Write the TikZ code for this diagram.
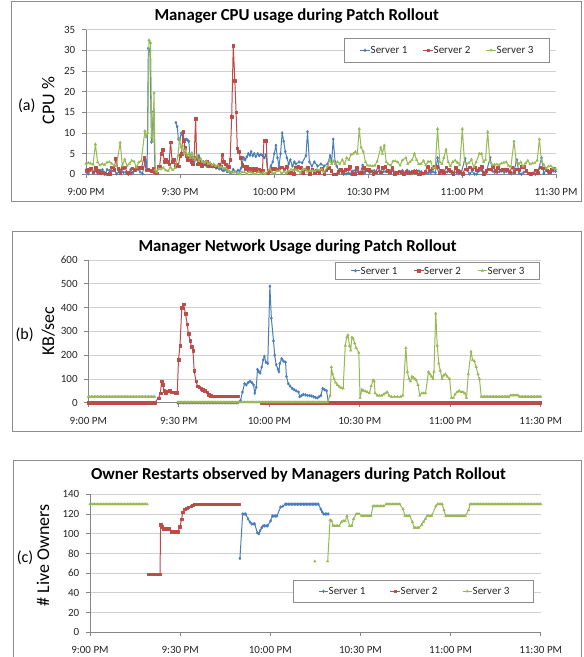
\documentclass[tikz,border=0pt]{standalone}
\usepackage{fontspec}
\setmainfont{Carlito}
\usetikzlibrary{plotmarks}

\definecolor{cA}{HTML}{4A7EBB}
\definecolor{cB}{HTML}{BE4B48}
\definecolor{cC}{HTML}{98B954}
\definecolor{gridc}{HTML}{D0D0D0}
\definecolor{axisc}{HTML}{868686}
\definecolor{framec}{HTML}{8C8C8C}

\tikzset{
  serA/.style={cA, line width=1pt, line join=round, mark=diamond*, mark size=1.5pt,
    mark options={fill=cA, draw=cA, line width=0.3pt}},
  serB/.style={cB, line width=1pt, line join=round, mark=square*, mark size=1.3pt,
    mark options={fill=cB, draw=cB, line width=0.3pt}},
  serC/.style={cC, line width=1pt, line join=round, mark=triangle*, mark size=1.5pt,
    mark options={fill=cC, draw=cC, line width=0.3pt}},
  gridln/.style={gridc, line width=0.8pt},
  axln/.style={axisc, line width=0.8pt},
  chartframe/.style={framec, line width=1pt},
  legframe/.style={framec, line width=0.8pt, fill=white},
  ticklab/.style={inner sep=0pt, text=black!85, font=\fontsize{11}{13}\selectfont},
  legtxt/.style={inner sep=0pt, text=black!85, font=\fontsize{11}{13}\selectfont, anchor=west},
  charttitle/.style={inner sep=0pt, font=\fontsize{16.8}{20}\selectfont\bfseries},
  panellab/.style={inner sep=0pt, font=\fontsize{16}{19}\selectfont},
  axtitle/.style={inner sep=0pt, font=\fontsize{18}{21}\selectfont},
}

% sampling step (minutes) for generated runs
\def\dstep{0.6}
% append a run of samples: accumulator, from, to, base value, random amplitude
\newcommand\addrun[5]{%
  \pgfmathtruncatemacro\nRuns{(#3-#2)/\dstep}%
  \foreach \i in {0,...,\nRuns}{%
    \pgfmathsetmacro\nT{#2+\dstep*\i}%
    \pgfmathsetmacro\nV{#4+#5*rnd}%
    \xdef#1{#1 (\nT,\nV)}}}
% append explicit samples
\newcommand\addpts[2]{\xdef#1{#1 #2}}
% draw an accumulated series
\newcommand\drawser[2]{\begingroup\edef\x{\noexpand\draw[#1] plot coordinates {#2};}\x\endgroup}
% grid, axes, ticks and tick labels of one chart (inside its scope)
\newcommand\panelaxes[2]{%
  \pgfmathtruncatemacro\ysec{#2*2}%
  \foreach \g in {#2,\ysec,...,#1} \draw[gridln] (0,\g) -- (150,\g);
  \draw[axln] (0,0) -- (0,#1);
  \draw[axln] (0,0) -- (150,0);
  \foreach \g in {0,#2,...,#1} {%
    \draw[axln] (0,\g) -- ++(-4pt,0);
    \node[ticklab,anchor=east] at ([xshift=-10.5pt]0,\g) {\g};}
  \foreach \m/\lab in {0/9:00 PM,30/9:30 PM,60/10:00 PM,90/10:30 PM,120/11:00 PM,150/11:30 PM}{%
    \draw[axln] (\m,0) -- ++(0,-4pt);
    \node[ticklab] at ([yshift=-18pt]\m,0) {\lab};}}
% legend row: y, three line starts, three line ends
\newcommand\legendrow[7]{%
  \draw[serA, mark indices={2}] plot coordinates {(#2,#1) ({(#2+#5)/2},#1) (#5,#1)};
  \node[legtxt] at (#5+0.5,#1) {Server 1};
  \draw[serB, mark indices={2}] plot coordinates {(#3,#1) ({(#3+#6)/2},#1) (#6,#1)};
  \node[legtxt] at (#6+0.5,#1) {Server 2};
  \draw[serC, mark indices={2}] plot coordinates {(#4,#1) ({(#4+#7)/2},#1) (#7,#1)};
  \node[legtxt] at (#7+0.5,#1) {Server 3};}

\begin{document}
\begin{tikzpicture}[x=1pt,y=-1pt]
\fill[white] (0,0) rectangle (584,657);
\useasboundingbox (0,0) rectangle (584,657);
\pgfmathsetseed{4711}

% ---------------- chart frames ----------------
\draw[chartframe] (11.7,1.7) rectangle (581.7,201.7);
\draw[chartframe] (12.3,231.7) rectangle (581.7,431);
\draw[chartframe] (13.3,460.7) rectangle (581.7,660);

% ---------------- (a) CPU usage ----------------
\node[charttitle] (ta) at (296.7,15.7) {Manager CPU usage during Patch Rollout};
\node[panellab] (pa) at (26.7,106) {(a)};
\node[axtitle, rotate=90] (ya) at (48.3,100.7) {CPU \%};
\begin{scope}[shift={(86,174.3)}, x=3.1333pt, y=4.131pt]
  \panelaxes{35}{5}
  \def\dstep{0.75}
  % Server 1
  \gdef\aA{}\gdef\aB{}
  \addrun\aA{0}{18.5}{0}{1.3}
  \addpts\aA{(19,3.5) (19.5,1.2) (19.9,30.5) (20.4,30) (20.9,7.8) (21.5,15.2) (22,1.5)}
  \addpts\aB{(28.7,12.5) (29.1,11.5) (29.5,8.5) (30,8.5) (30.4,10) (30.8,9.5) (31.2,8.5) (31.6,8.3) (32,8.5) (32.4,8.3) (32.8,8) (33.2,4.5) (33.6,3.5) (34,4) (34.5,3) (35,3.5) (35.5,4) (36,4.5) (36.5,3) (37,2.5) (37.5,3) (38,2.8) (38.5,2) (39,2.5) (39.5,2) (40,2.3) (40.5,1.8) (41,2) (41.5,1.5) (42,1.7) (42.5,1.3) (43,1.5) (43.5,1) (44,0.9) (44.5,1.2) (45,0.6) (45.5,0.8) (46,0.4) (46.5,0.5) (47,1.2) (47.5,0.6) (48,0.5) (48.5,1) (49,0.8) (49.5,1.5) (50.3,4) (50.8,3.5) (51.3,4.2) (51.8,5) (52.3,4.6) (52.7,5.5) (53.2,4.5) (53.7,5) (54.2,4.3) (54.8,5) (55.3,4.5) (55.8,4.8) (56.4,4.5) (56.9,4) (57.4,4.8) (58,0.5) (58.5,1) (59,2) (59.6,3) (60.1,5) (60.6,7) (61.1,4) (61.6,2) (62.1,5) (62.6,10) (63.1,8) (63.6,5.5) (64.1,4) (64.7,2.5) (65.2,3.5) (65.9,2) (66.5,3) (67,2.5) (68,3) (69,2.8) (70.2,4.5) (70.7,10.3) (71.3,3) (72.1,2) (72.9,3) (73.9,2) (75,2.5) (76,2) (77.1,2.5) (77.9,4.5) (78.4,3) (78.9,8.5) (79.5,3) (80,2) (80.8,0.8)}
  \addrun\aB{81.5}{88}{0}{1}
  \addpts\aB{(88.3,2.2)}
  \addrun\aB{89}{111.5}{0}{1}
  \addpts\aB{(112.2,4)}
  \addrun\aB{113}{120.3}{0}{1}
  \addpts\aB{(121,3.8)}
  \addrun\aB{121.7}{128.3}{0}{1}
  \addpts\aB{(129,4)}
  \addrun\aB{129.7}{136.8}{0}{1}
  \addpts\aB{(137.5,3.5)}
  \addrun\aB{138.2}{144.7}{0}{1}
  \addpts\aB{(145.4,4)}
  \addrun\aB{146.1}{150}{0}{1}
  \drawser{serA}{\aA}
  \drawser{serA}{\aB}
  % Server 2
  \gdef\rA{}
  \addrun\rA{0}{9}{0}{1.8}
  \addpts\rA{(9.5,3.8)}
  \addrun\rA{10.2}{18}{0}{1.8}
  \addpts\rA{(18.5,4) (19.2,1) (19.8,1.2) (20.4,1) (21,0.8) (21.5,1.5) (22,0.5) (22.5,0.3) (23,2) (23.5,2) (24,5) (24.5,6) (25,3) (25.5,3.5) (26,3) (26.5,2.5) (27,7.8) (27.5,3) (28,3.5) (28.5,2) (29,2.5) (29.5,2) (30,4.5) (30.5,5) (31,10.3) (31.3,8) (31.6,6.5) (32,4.5) (32.5,3.5) (33,4) (33.5,3) (34,2.5) (34.5,4) (35,13.5) (35.3,4) (35.7,2.5) (36,3) (36.5,2.5) (37,2) (37.5,2.5) (38,2.5) (38.5,3) (39,2) (39.5,2.5) (40,2) (40.5,2.2) (41,2) (41.5,1.8) (42,2) (42.5,2.3) (43,2) (43.5,4.8) (44,3) (44.5,2.5) (45,2) (45.5,1.8) (46,3.5) (46.5,14) (47,31.2) (47.5,22.7) (47.9,15) (48.3,6.3) (48.8,5.5) (49.3,4) (49.8,2.5) (50.3,2) (50.8,1.2) (51.3,1.8) (51.8,1) (52.3,1.5) (52.8,0.8) (53.3,1.5) (53.8,1) (54.3,1.3) (54.8,0.8) (55.3,1.2) (55.8,0.8) (56.3,1) (56.8,8.2) (57.5,8.2) (58,0.3)}
  \addrun\rA{58.7}{150}{0}{1.9}
  \drawser{serB}{\rA}
  % Server 3
  \gdef\gA{}
  \addrun\gA{0}{2.3}{1.8}{1.3}
  \addpts\gA{(3,7.3)}
  \addrun\gA{3.7}{10.2}{1.6}{1.8}
  \addpts\gA{(10.9,7.7)}
  \addrun\gA{11.6}{18.1}{1.5}{2.3}
  \addpts\gA{(18.8,10.5) (19.2,9) (19.7,10) (20.1,32.5) (20.6,31.8) (21,9) (21.3,8) (21.7,19.7) (22.1,1) (22.6,0.5)}
  \addrun\gA{23.2}{28.8}{0.6}{1.5}
  \addpts\gA{(29.4,4.5) (29.8,8.7) (30.3,6.5) (30.8,7) (31.3,5) (31.8,6) (32.3,4.5) (32.8,5) (33.3,4) (33.8,5.2) (34.3,4) (34.8,3.5) (35.4,4.5) (36,3.2) (36.6,3.8) (37.2,3) (37.8,2.8) (38.4,3.2) (39,2.5) (39.6,2.8) (40.2,2.2) (40.8,2.5) (41.4,2) (42,2.2) (42.6,1.7) (43.2,1.8) (43.8,1.4) (44.4,1.5) (45,1) (45.6,0.8) (46.2,0.5)}
  \addrun\gA{46.8}{58}{0}{0.6}
  \addrun\gA{58.7}{76.5}{0.2}{1.2}
  \addpts\gA{(77.2,2) (77.8,3.5) (78.4,2.5) (79,3.2) (79.6,2.5) (80.3,3) (81,2.5) (81.8,3.5) (82.5,2.5) (83.2,4) (83.9,3.5) (84.6,4.8) (85.3,5) (86,5.5) (86.6,5) (87.2,11) (87.8,6.5) (88.5,5.5) (89.2,3)}
  \addrun\gA{89.9}{93.4}{1.7}{1.6}
  \addpts\gA{(94.1,6.5) (94.6,5) (95.2,7) (95.8,3)}
  \addrun\gA{96.5}{101.5}{1.7}{1.8}
  \addpts\gA{(102.1,4) (102.7,2.5) (103.4,3) (104.1,3.5) (104.8,5) (105.5,3.5)}
  \addrun\gA{106.2}{111.5}{1.5}{2}
  \addpts\gA{(112.2,11) (112.9,3) (113.6,2.5) (114.2,4) (114.9,6) (115.6,3)}
  \addrun\gA{116.3}{119.5}{1.6}{2}
  \addpts\gA{(120.1,11) (120.8,3)}
  \addrun\gA{121.5}{124.8}{1.6}{2.2}
  \addpts\gA{(125.5,5) (126.2,5) (126.9,3) (127.5,3.5) (128.2,10.3) (128.9,3)}
  \addrun\gA{129.6}{136}{1.5}{2}
  \addpts\gA{(136.6,8) (137.3,3)}
  \addrun\gA{138}{144}{1.5}{2}
  \addpts\gA{(144.7,8.5) (145.4,3)}
  \addrun\gA{146.1}{150}{1.2}{1.2}
  \drawser{serC}{\gA}
\end{scope}
\draw[legframe] (344,38.3) rectangle (549,62.3);
\legendrow{50.3}{360}{423}{486}{370}{433}{496}

% ---------------- (b) network usage ----------------
\node[charttitle] (tb) at (297.6,246.7) {Manager Network Usage during Patch Rollout};
\node[panellab] (pb) at (24.7,335) {(b)};
\node[axtitle, rotate=90] (yb) at (48.3,331.2) {KB/sec};
\begin{scope}[shift={(88.3,402.7)}, x=3.016pt, y=0.2378pt]
  \panelaxes{600}{100}
  \def\dstep{0.5}
  % Server 1
  \gdef\bB{}
  \addrun\bB{29.6}{49.9}{0}{0}
  \addpts\bB{(50.5,10) (51.1,45) (51.8,80) (52.4,75) (53,85) (53.6,90) (54.2,85) (54.8,75) (55.2,40) (55.7,65) (56.1,140) (56.6,130) (57,125) (57.5,150) (58,180) (58.4,195) (58.9,170) (59.5,165) (60.2,490) (60.7,355) (61.4,260) (61.8,200) (62.3,160) (62.9,140) (63.2,130) (63.5,165) (64.1,185) (64.7,175) (65.4,170) (65.7,110) (66.3,80) (66.9,70) (67.6,60) (68.2,55) (68.9,50) (69.7,45) (70.1,25) (70.7,30) (71.3,35) (72,33) (72.7,30) (73.4,30) (74,28) (74.7,25) (75.3,22) (75.9,20) (76.5,25) (77.1,30) (77.7,60) (78.3,55) (79,50) (79.6,0)}
  \drawser{serA}{\bB}
  % Server 2
  \gdef\rBa{}\gdef\rBb{}
  \addrun\rBa{0}{22.4}{0}{0}
  \addpts\rBa{(23.3,20) (23.9,40) (24.3,90) (24.7,75) (25.2,50) (25.7,40) (26.2,48) (27,50) (27.7,45) (28.3,45) (29,42) (29.5,42) (29.9,180) (30.4,240) (31,400) (31.6,415) (32.2,375) (32.8,330) (33.2,290) (33.8,260) (34.2,235) (34.7,220) (35.1,135) (35.7,90) (36.2,70) (36.8,65) (37.4,60) (38,55) (38.6,50) (39.4,45) (40,35) (40.6,30)}
  \addrun\rBa{41.2}{49.9}{28}{0}
  \addrun\rBb{57.3}{150}{0}{0}
  \drawser{serB}{\rBa}
  \drawser{serB}{\rBb}
  % Server 3
  \gdef\gBa{}\gdef\gBb{}
  \addrun\gBa{0}{22.1}{25}{0}
  \addrun\gBb{29.8}{79.6}{2}{0}
  \addpts\gBb{(80.2,30) (80.6,150) (81,120) (81.5,100) (82,85) (82.6,75) (83.2,68) (83.8,62) (84.5,60) (85.2,240) (85.7,275) (86.1,285) (86.6,240) (87,220) (87.4,275) (87.8,270) (88.3,250) (88.8,230) (89.7,210) (90.1,20) (90.7,55) (91.3,50) (91.9,48) (92.5,45) (93.2,40) (93.8,70) (94.4,95) (94.8,90) (95.1,40) (95.8,30) (96.5,30) (97.2,30) (97.9,35) (98.5,40) (99.1,45) (99.7,30) (100.5,25) (101.5,25) (102.5,25) (103.5,25) (104.3,30) (105.3,230) (105.8,130) (106.3,100) (106.8,90) (107.3,110) (107.8,105) (108.3,100) (108.7,95) (109.3,75) (109.9,30) (110.6,40) (111.2,40) (111.8,40) (112.8,130) (113.3,120) (113.8,110) (114.3,100) (114.6,130) (115.2,375) (115.7,240) (116.2,165) (116.7,135) (117.3,100) (117.8,115) (118.4,120) (119,110) (119.8,100) (120.4,20) (121,20) (121.6,35) (122.3,45) (123,50) (123.6,45) (124.2,45) (124.8,40) (125.4,20) (126,120) (126.9,215) (127.4,180) (128,175) (128.6,150) (129.2,120) (129.7,100) (130.3,25)}
  \addrun\gBb{130.9}{139.5}{25}{0}
  \addrun\gBb{140}{142.5}{31}{0}
  \addrun\gBb{143}{150}{25}{0}
  \drawser{serC}{\gBa}
  \drawser{serC}{\gBb}
\end{scope}
\draw[legframe] (335,262.3) rectangle (539,279.3);
\legendrow{270.8}{351}{414}{477.6}{360}{423.5}{487}

% ---------------- (c) owner restarts ----------------
\node[charttitle] (tc) at (298.5,475) {Owner Restarts observed by Managers during Patch Rollout};
\node[panellab] (pc) at (25,557.3) {(c)};
\node[axtitle, rotate=90] (yc) at (43,555.5) {\# Live Owners};
\begin{scope}[shift={(90,632.3)}, x=3.0047pt, y=0.9857pt]
  \panelaxes{140}{20}
  \def\dstep{0.5}
  % Server 1
  \gdef\bC{}
  \addpts\bC{(49.9,75) (50.8,120)}
  \addrun\bC{51.3}{52}{120}{0}
  \addpts\bC{(52.6,115) (53.2,112)}
  \addrun\bC{53.8}{55.1}{110}{0}
  \addpts\bC{(55.7,101) (56.2,100) (56.6,103) (57.1,106)}
  \addrun\bC{57.6}{59.5}{108}{0}
  \addpts\bC{(60.1,113)}
  \addrun\bC{60.7}{62.6}{118}{0}
  \addpts\bC{(63.4,127) (64.2,128)}
  \addrun\bC{65}{76.2}{130}{0}
  \addpts\bC{(76.8,125) (77.3,122)}
  \addrun\bC{77.8}{79.3}{120}{0}
  \drawser{serA}{\bC}
  % Server 2
  \gdef\rC{}
  \addrun\rC{19.3}{23.3}{59}{0}
  \addpts\rC{(23.5,109) (24,107)}
  \addrun\rC{24.3}{26.5}{105}{0}
  \addrun\rC{27.2}{29.4}{102}{0}
  \addpts\rC{(29.9,107) (30.5,115) (30.9,122) (31.5,125) (32.1,126) (32.7,127) (33.6,128) (34.1,129)}
  \addrun\rC{34.6}{49.6}{130}{0}
  \drawser{serB}{\rC}
  % Server 3
  \gdef\gCa{}\gdef\gCb{}
  \addrun\gCa{0}{19}{130}{0}
  \drawser{serC}{\gCa}
  \draw[serC] plot coordinates {(74.8,72)};
  \addpts\gCb{(79.1,72) (79.9,114) (80.4,113)}
  \addrun\gCb{80.9}{83}{108}{0}
  \addpts\gCb{(83.7,112) (84.3,113) (84.9,113) (85.5,118) (86.4,108) (87.1,108) (87.7,115) (88.6,120)}
  \addrun\gCb{89.1}{90}{120}{0}
  \addrun\gCb{90.5}{93.5}{118}{0}
  \addrun\gCb{94.2}{97.9}{128}{0}
  \addrun\gCb{98.6}{103.5}{130}{0}
  \addpts\gCb{(104.2,125) (104.8,118)}
  \addrun\gCb{105.4}{106.6}{118}{0}
  \addpts\gCb{(107.3,112)}
  \addrun\gCb{107.9}{109.7}{106}{0}
  \addpts\gCb{(110.4,109) (111,112) (111.6,115)}
  \addrun\gCb{112.2}{114.1}{118}{0}
  \addpts\gCb{(115.1,128)}
  \addrun\gCb{115.7}{117.2}{130}{0}
  \addpts\gCb{(117.8,124)}
  \addrun\gCb{118.4}{125.3}{118}{0}
  \addpts\gCb{(126,124)}
  \addrun\gCb{126.5}{150}{130}{0}
  \drawser{serC}{\gCb}
\end{scope}
\draw[legframe] (293.7,580) rectangle (533.6,602.3);
\legendrow{591.3}{319}{390}{462.7}{328}{400}{472}
\end{tikzpicture}
\end{document}
